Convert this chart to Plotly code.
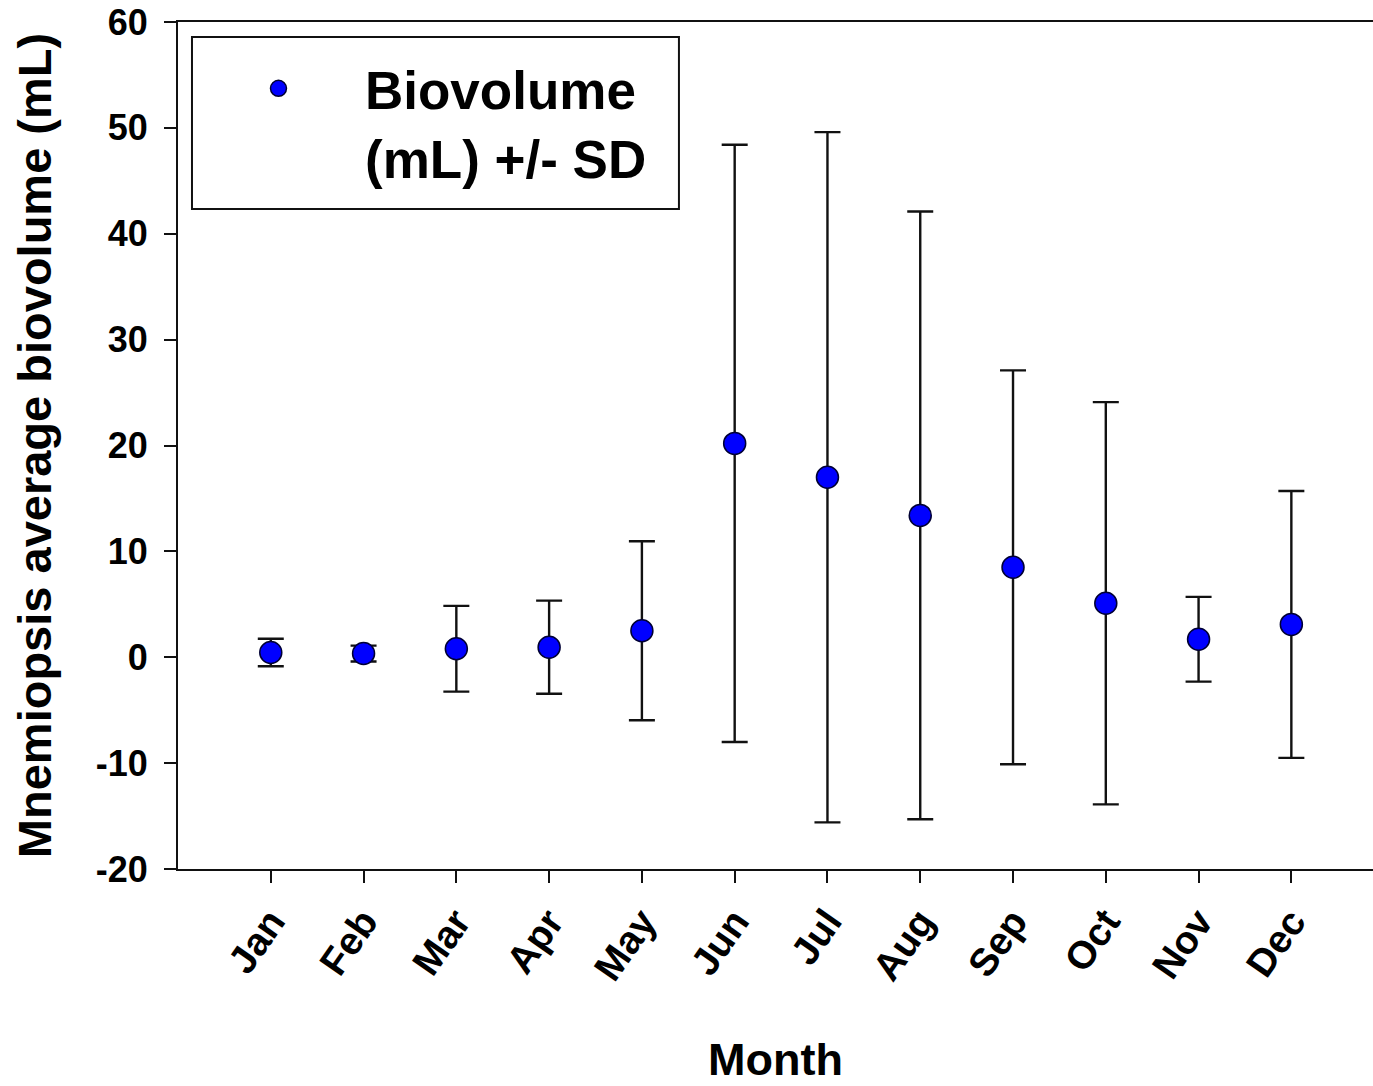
import plotly.graph_objects as go

months = ["Jan", "Feb", "Mar", "Apr", "May", "Jun", "Jul", "Aug", "Sep", "Oct", "Nov", "Dec"]
month_pos = [1, 2, 3, 4, 5, 6, 7, 8, 9, 10, 11, 12]
biovolume_mean = [0.45, 0.35, 0.8, 0.95, 2.5, 20.2, 17.0, 13.4, 8.5, 5.1, 1.7, 3.1]
biovolume_sd = [1.3, 0.75, 4.05, 4.4, 8.45, 28.2, 32.6, 28.7, 18.6, 19.0, 4.0, 12.6]
y_ticks = [-20, -10, 0, 10, 20, 30, 40, 50, 60]
y_ticktext = ["-20", "-10", "0", "10", "20", "30", "40", "50", "60"]

FONT = "Liberation Sans, Arial, sans-serif"
INK = "#111111"

fig = go.Figure()
fig.add_trace(go.Scatter(
    x=month_pos, y=biovolume_mean, mode="markers",
    name="<b>Biovolume<br>(mL) +/- SD</b>",
    marker=dict(size=22, color="#0000ff", line=dict(color="#000033", width=1.5)),
    error_y=dict(type="data", array=biovolume_sd, visible=True,
                 color=INK, thickness=2.4, width=13),
))

# legend frame
fig.add_shape(type="rect", xref="paper", yref="paper",
              x0=0.0117, x1=0.4192, y0=0.7792, y1=0.9823,
              line=dict(color=INK, width=2), fillcolor="rgba(0,0,0,0)", layer="above")

# x-axis title
fig.add_annotation(text="<b>Month</b>", xref="paper", yref="paper",
                   x=0.5, y=-0.2255, xanchor="center", yanchor="middle",
                   showarrow=False, font=dict(size=45, family=FONT, color="black"))

fig.update_layout(
    width=1373, height=1086,
    margin=dict(l=178, r=0, t=22, b=217, autoexpand=False),
    paper_bgcolor="white", plot_bgcolor="white",
    font=dict(family=FONT, color="black"),
    showlegend=True,
    legend=dict(
        x=0.0117, y=0.970, xanchor="left", yanchor="top",
        bgcolor="rgba(0,0,0,0)", borderwidth=0,
        font=dict(size=53, family=FONT, color="black"),
        itemwidth=163, valign="top", itemsizing="trace",
    ),
    xaxis=dict(
        range=[0, 12.88], tickvals=month_pos, ticktext=months,
        tickangle=-55, ticks="outside", ticklen=12, tickwidth=2, tickcolor=INK,
        showline=True, linecolor=INK, linewidth=2, mirror=True,
        showgrid=False, zeroline=False,
        tickfont=dict(size=39, family=FONT, color="black", weight="bold"),
    ),
    yaxis=dict(
        range=[-20, 60], tickvals=y_ticks, ticktext=y_ticktext,
        ticks="outside", ticklen=12, tickwidth=2, tickcolor=INK,
        showline=True, linecolor=INK, linewidth=2, mirror=False,
        showgrid=False, zeroline=False, ticklabelstandoff=9,
        tickfont=dict(size=36, family=FONT, color="black", weight="bold"),
        title=dict(text="<b>Mnemiopsis average biovolume (mL)</b>", font=dict(size=47, family=FONT, color="black"), standoff=29),
    ),
)

fig.write_html("out.html")
